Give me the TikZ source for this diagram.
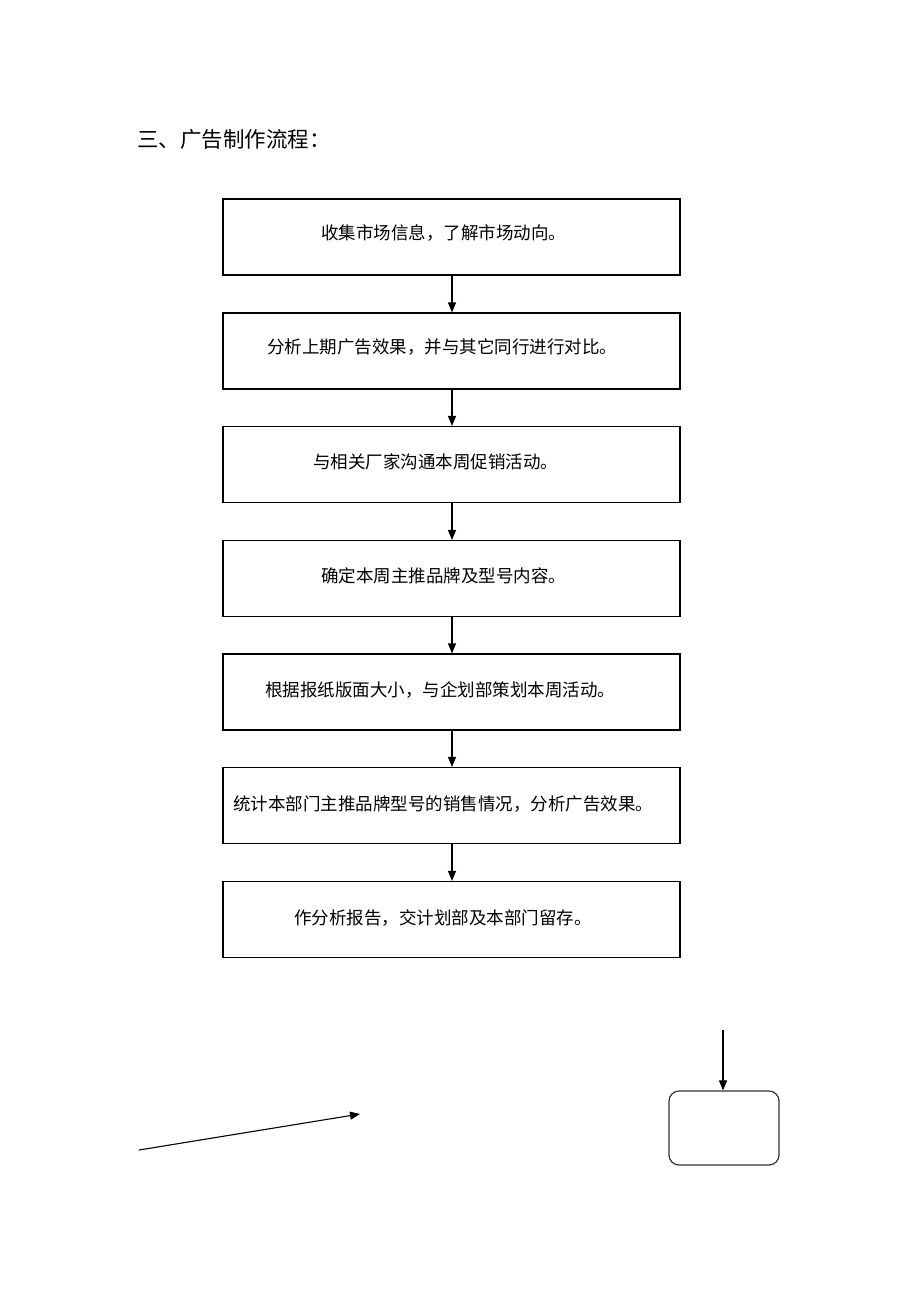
\documentclass[tikz,border=0pt]{standalone}
\usepackage{fontspec}
\newfontfamily\cjk{Noto Sans CJK SC}
\usetikzlibrary{arrows.meta}
\begin{document}
\begin{tikzpicture}[x=1pt,y=-1pt,
  stepbox/.style={draw=black,line width=1.1pt,rectangle,minimum width=457pt,minimum height=76pt,inner sep=0pt},
  txt/.style={anchor=west,inner sep=0pt,font=\cjk\fontsize{17.5}{17.5}\selectfont},
  arr/.style={draw=black,line width=1.1pt,-{Triangle[length=10pt,width=8pt]}},
  rbox/.style={draw=black!80,line width=1.2pt,rectangle,rounded corners=10pt,minimum width=110pt,minimum height=74pt,inner sep=0pt}]
\useasboundingbox (0,0) rectangle (920,1303);
\node[anchor=west,inner sep=0pt,font=\cjk\fontsize{21.5}{21.5}\selectfont] (title) at (137,139) {三、广告制作流程：};
\node[stepbox] (b1) at (451.5,237) {};
\node[stepbox] (b2) at (451.5,351) {};
\node[stepbox] (b3) at (451.5,464.5) {};
\node[stepbox] (b4) at (451.5,578.5) {};
\node[stepbox] (b5) at (451.5,692) {};
\node[stepbox] (b6) at (451.5,805.5) {};
\node[stepbox] (b7) at (451.5,919.5) {};
\node[txt] (t1) at (321,233) {收集市场信息，了解市场动向。};
\node[txt] (t2) at (267,347) {分析上期广告效果，并与其它同行进行对比。};
\node[txt] (t3) at (313,462) {与相关厂家沟通本周促销活动。};
\node[txt] (t4) at (321,576) {确定本周主推品牌及型号内容。};
\node[txt] (t5) at (265,690) {根据报纸版面大小，与企划部策划本周活动。};
\node[txt] (t6) at (233,804) {统计本部门主推品牌型号的销售情况，分析广告效果。};
\node[txt] (t7) at (294,918) {作分析报告，交计划部及本部门留存。};
\foreach \a/\b in {b1/b2,b2/b3,b3/b4,b4/b5,b5/b6,b6/b7}
  \draw[arr] ([xshift=0.5pt]\a.south) -- ([xshift=0.5pt]\b.north);
\coordinate (s1) at (139,1150);
\coordinate (e1) at (360,1114);
\draw[arr] (s1) -- (e1);
\node[rbox] (r) at (724,1128) {};
\coordinate (s2) at (723,1030);
\draw[arr] (s2) -- (r.north -| s2);
\end{tikzpicture}
\end{document}
